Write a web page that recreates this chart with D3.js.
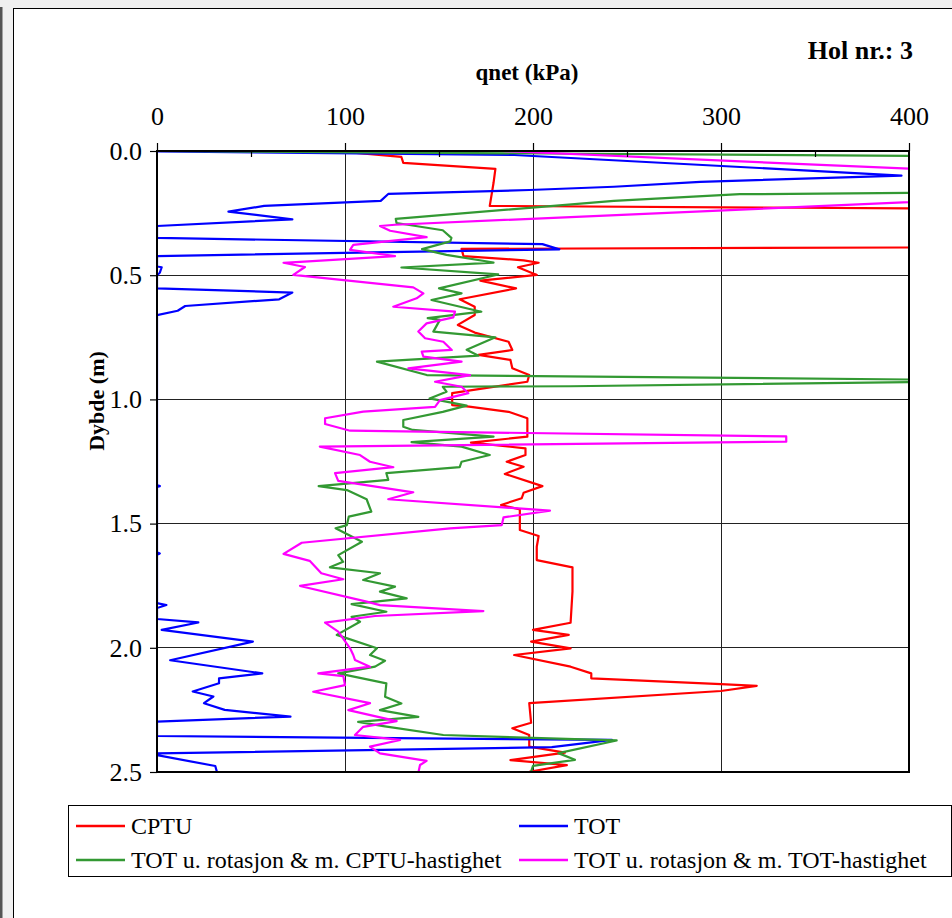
<!DOCTYPE html>
<html>
<head>
<meta charset="utf-8">
<script src="https://cdn.jsdelivr.net/npm/d3@7"></script>
<style>
  html, body { margin: 0; padding: 0; background: #f0f0f0; }
  svg { display: block; }
</style>
</head>
<body>
<svg id="chart" width="952" height="918"></svg>
<script>
// qnet (kPa) against depth (m); each series is a list of [depth, qnet] pairs.
// Values beyond 400 kPa run off the right edge and are clipped.
const cptu = [
  [0,90],[0.004,100],[0.024,130],[0.048,131],[0.072,180],[0.129,179],[0.221,177],[0.232,420],
  [0.388,420],[0.394,162],[0.423,163],[0.44,195],[0.45,203],[0.468,192],[0.499,202],[0.522,172],
  [0.553,191],[0.597,161],[0.627,169],[0.66,169],[0.70,160],[0.731,169],[0.768,187],[0.801,189],
  [0.821,171],[0.841,188],[0.875,189],[0.902,198],[0.929,197],[0.975,157],[1.023,157],[1.029,166],
  [1.05,187],[1.076,197],[1.15,197],[1.174,167],[1.197,196],[1.224,196],[1.251,186],[1.271,195],
  [1.30,185],[1.349,205],[1.376,195],[1.398,194],[1.425,183],[1.443,193],[1.526,193],[1.55,203],
  [1.593,202],[1.647,202],[1.676,221],[1.774,221],[1.899,220],[1.928,200],[1.948,219],[1.975,199],
  [2.002,220],[2.029,190],[2.076,220],[2.103,231],[2.123,231],[2.146,300],[2.153,319],[2.174,300],
  [2.223,198],[2.302,199],[2.324,189],[2.351,198],[2.398,198],[2.422,217],[2.452,188],[2.472,218],
  [2.499,198]
];

const tot = [
  [0,0],[0.002,1],[0.016,190],[0.099,396],[0.124,289],[0.144,243],[0.157,198],[0.173,123],
  [0.201,119],[0.221,57],[0.244,38],[0.275,72],[0.302,0],[0.35,0],[0.375,205],[0.396,214],
  [0.423,0],[0.465,0],[0.468,2.5],[0.49,1.5],[0.5,0],[0.553,0],[0.57,72],[0.597,65],
  [0.624,15],[0.643,11],[0.661,0],[1.345,0],[1.349,1.5],[1.353,0],[1.615,0],[1.62,1.5],
  [1.625,0],[1.82,0],[1.828,5],[1.84,0],[1.884,0],[1.898,22],[1.928,2.5],[1.975,51],
  [2.05,7],[2.103,56],[2.123,33],[2.143,33],[2.176,19],[2.196,30],[2.223,25],[2.25,36],
  [2.277,71],[2.297,0],[2.355,0],[2.371,242],[2.4,210],[2.425,0],[2.432,0],[2.476,31],
  [2.503,32]
];

const totCptuSpeed = [
  [0,0],[0.021,430],[0.167,430],[0.174,310],[0.201,243],[0.273,127],[0.29,127.4],[0.319,152],
  [0.35,156.6],[0.364,156],[0.395,141],[0.418,154],[0.449,179],[0.469,130],[0.497,181.5],[0.553,150],
  [0.573,162],[0.6,146],[0.647,172.5],[0.673,144],[0.68,150.5],[0.727,147],[0.75,180],[0.8,164.7],
  [0.824,171],[0.848,117],[0.902,143.5],[0.922,430],[0.928,430],[0.947,220],[0.949,152],[0.969,154],
  [0.996,145],[1.025,164.7],[1.05,152],[1.083,131],[1.11,131],[1.123,136],[1.15,179],[1.172,135.4],
  [1.19,162],[1.224,177],[1.251,162],[1.273,161],[1.297,122],[1.324,123],[1.349,86],[1.365,101],
  [1.402,111.5],[1.452,114],[1.472,102],[1.506,101],[1.519,95],[1.573,109],[1.627,96.4],[1.654,99],
  [1.676,92],[1.7,118.6],[1.727,109.7],[1.754,126.6],[1.774,118.6],[1.801,132.8],[1.824,103.5],[1.855,122],
  [1.875,103.5],[1.895,108],[1.948,95.6],[2.002,117],[2.029,113.3],[2.052,121.3],[2.076,116],[2.103,96.4],
  [2.143,122],[2.197,121.3],[2.224,130],[2.251,118.6],[2.278,139],[2.298,107],[2.315,120.4],[2.351,152.3],
  [2.373,244.5],[2.424,213.5],[2.451,222.3],[2.475,200],[2.498,199]
];

const totTotSpeed = [
  [0,183.5],[0.081,430],[0.196,430],[0.297,126.6],[0.302,118.6],[0.321,124],[0.347,143.4],[0.378,104.4],
  [0.398,102.7],[0.423,126.6],[0.45,67.3],[0.467,78.7],[0.499,72.5],[0.549,136.3],[0.573,141.7],[0.593,138.1],
  [0.627,125.7],[0.647,158.5],[0.67,157.6],[0.694,143.4],[0.727,139],[0.754,142.6],[0.768,152.3],[0.801,156.8],
  [0.808,140.8],[0.828,141.7],[0.848,162],[0.875,133.7],[0.902,166.5],[0.929,147.9],[0.949,162],[0.975,165.6],
  [1.003,150.5],[1.03,147.9],[1.049,109.7],[1.076,89.4],[1.099,89.4],[1.126,102.7],[1.149,334.7],[1.17,334.7],
  [1.19,86.6],[1.224,108],[1.251,113.3],[1.273,125.7],[1.297,94.7],[1.328,96.4],[1.374,136.3],[1.402,123],
  [1.448,209],[1.475,184.3],[1.506,183.4],[1.519,155.9],[1.577,77],[1.622,67.3],[1.65,81.2],[1.7,87.4],
  [1.724,99.1],[1.751,76.1],[1.814,111.5],[1.828,118.6],[1.852,173.6],[1.872,116],[1.899,89.4],[1.935,96.4],
  [2.002,102.7],[2.029,104.4],[2.049,105.3],[2.076,113.3],[2.103,85.8],[2.114,99.1],[2.15,100],[2.177,83.1],
  [2.223,113.3],[2.251,101.8],[2.295,127.5],[2.318,109.7],[2.351,105.3],[2.371,129.3],[2.398,113.3],[2.425,118.6],
  [2.455,143.4],[2.472,139.9],[2.503,139]
];

const seriesNames = ["CPTU", "TOT", "TOT u. rotasjon & m. CPTU-hastighet", "TOT u. rotasjon & m. TOT-hastighet"];
const seriesColors = ["#ff0000", "#0000ff", "#339933", "#ff00ff"];
const seriesData = [cptu, tot, totCptuSpeed, totTotSpeed];

const xTicks = [0, 100, 200, 300, 400];
const xMinorTicks = [50, 150, 250, 350];
const yTicks = [0, 0.5, 1.0, 1.5, 2.0, 2.5];
const yTickLabels = ["0.0", "0.5", "1.0", "1.5", "2.0", "2.5"];

const titleText = "Hol nr.: 3";
const xTitle = "qnet (kPa)";
const yTitle = "Dybde (m)";

const serif = "'Liberation Serif', 'Times New Roman', serif";
const svg = d3.select("#chart");

// page background and the framed panel
svg.append("rect").attr("x", 0).attr("y", 0).attr("width", 952).attr("height", 918).attr("fill", "#f0f0f0");
svg.append("rect").attr("x", 0).attr("y", 7).attr("width", 2.5).attr("height", 911).attr("fill", "#555");
svg.append("rect").attr("x", 13.5).attr("y", 8.5).attr("width", 960).attr("height", 930)
  .attr("fill", "#fff").attr("stroke", "#000").attr("stroke-width", 1);

const plot = { left: 157, right: 909, top: 151, bottom: 772 };
const x = d3.scaleLinear().domain([0, 400]).range([plot.left, plot.right]);
const y = d3.scaleLinear().domain([0, 2.5]).range([plot.top, plot.bottom]);

// grid
const grid = svg.append("g").attr("stroke", "#222").attr("stroke-width", 1).attr("shape-rendering", "crispEdges");
grid.selectAll("line.v").data(xTicks.slice(1, -1)).join("line")
  .attr("x1", d => x(d)).attr("x2", d => x(d)).attr("y1", plot.top).attr("y2", plot.bottom);
grid.selectAll("line.h").data(yTicks.slice(1, -1)).join("line")
  .attr("x1", plot.left).attr("x2", plot.right).attr("y1", d => y(d)).attr("y2", d => y(d));

// data lines, clipped to the plot area
svg.append("defs").append("clipPath").attr("id", "plotClip")
  .append("rect").attr("x", plot.left).attr("y", plot.top)
  .attr("width", plot.right - plot.left).attr("height", plot.bottom - plot.top);

const line = d3.line().x(d => x(d[1])).y(d => y(d[0]));
const lines = svg.append("g").attr("clip-path", "url(#plotClip)");
seriesData.forEach((data, i) => {
  lines.append("path").datum(data)
    .attr("d", line).attr("fill", "none")
    .attr("stroke", seriesColors[i]).attr("stroke-width", 2.2)
    .attr("stroke-linejoin", "round");
});

// plot frame
svg.append("rect").attr("x", plot.left).attr("y", plot.top)
  .attr("width", plot.right - plot.left).attr("height", plot.bottom - plot.top)
  .attr("fill", "none").attr("stroke", "#000").attr("stroke-width", 2);

// axes
const xAxis = svg.append("g").attr("transform", `translate(0,${plot.top})`)
  .call(d3.axisTop(x).tickValues(xTicks).tickFormat(d3.format("d")).tickSize(8).tickPadding(18));
const xMinor = svg.append("g").attr("transform", `translate(0,${plot.top})`)
  .call(d3.axisTop(x).tickValues(xMinorTicks).tickFormat("").tickSize(-6));
const yAxis = svg.append("g").attr("transform", `translate(${plot.left},0)`)
  .call(d3.axisLeft(y).tickValues(yTicks).tickFormat((d, i) => yTickLabels[i]).tickSize(7).tickPadding(8));

[xAxis, xMinor, yAxis].forEach(g => {
  g.select(".domain").remove();
  g.selectAll(".tick line").attr("stroke", "#000").attr("stroke-width", 1.2);
  g.selectAll(".tick text").attr("font-family", serif).attr("font-size", 26).attr("fill", "#000");
});
xAxis.selectAll(".tick text").attr("dy", "0em");

// titles
svg.append("text").attr("x", 913).attr("y", 59).attr("text-anchor", "end")
  .attr("font-family", serif).attr("font-weight", "bold").attr("font-size", 26).text(titleText);
svg.append("text").attr("x", 527).attr("y", 80).attr("text-anchor", "middle")
  .attr("font-family", serif).attr("font-weight", "bold").attr("font-size", 23).text(xTitle);
svg.append("text").attr("transform", "translate(104,401) rotate(-90)").attr("text-anchor", "middle")
  .attr("font-family", serif).attr("font-weight", "bold").attr("font-size", 22).text(yTitle);

// legend
const legend = svg.append("g");
legend.append("rect").attr("x", 68.5).attr("y", 805.5).attr("width", 883).attr("height", 71)
  .attr("fill", "#fff").attr("stroke", "#000").attr("stroke-width", 1);
const legendPos = [[76, 826], [519, 826], [76, 860], [519, 860]];
seriesNames.forEach((name, i) => {
  const [lx, ly] = legendPos[i];
  legend.append("line").attr("x1", lx).attr("x2", lx + 49).attr("y1", ly).attr("y2", ly)
    .attr("stroke", seriesColors[i]).attr("stroke-width", 2.5);
  legend.append("text").attr("x", lx + 55).attr("y", ly + 8)
    .attr("font-family", serif).attr("font-size", 24).attr("fill", "#000").text(name);
});
</script>
</body>
</html>
